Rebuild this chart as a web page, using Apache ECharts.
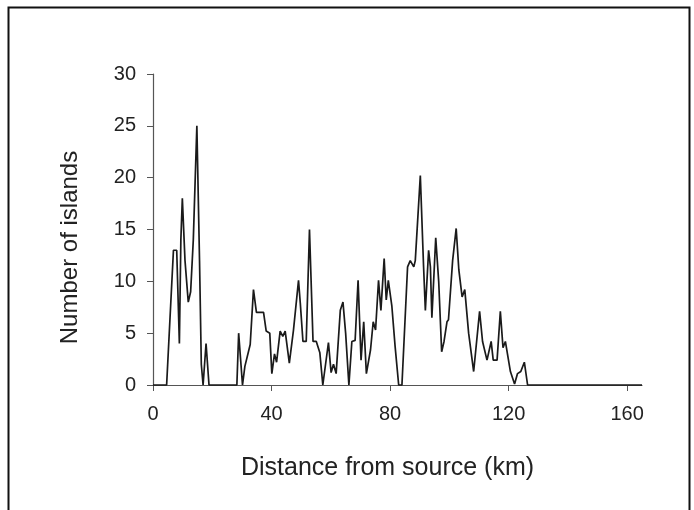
<!DOCTYPE html>
<html>
<head>
<meta charset="utf-8">
<script src="https://cdn.jsdelivr.net/npm/echarts@6/dist/echarts.min.js"></script>
<style>
  html, body { margin: 0; padding: 0; background: #fff; }
  #chart { width: 694px; height: 510px; }
</style>
</head>
<body>
<div id="chart"></div>
<script>
// distance along the river (km) and island count
const distanceKm = [
  0, 4.6, 6.9, 8, 8.9, 9.4, 9.9, 10.8, 11.9, 12.7, 13.6, 14.8, 15.7, 16.3, 16.9, 17.9, 18.9,
  28.3, 28.9, 30.2, 31, 32.8, 33.9, 34.9, 37.3, 38.2, 39.4, 40.1, 41, 41.7, 42.9, 43.8, 44.6,
  46, 47.4, 49.1, 49.7, 50.6, 51.7, 52.8, 54, 55.1, 56.3, 57.3, 59.2, 60.1, 60.9, 61.8,
  63.2, 64.1, 65, 66.1, 67.1, 68.2, 69.2, 70.2, 71.1, 72, 73.4, 74.3, 75.1, 76.1, 76.9,
  78, 78.7, 79.4, 80.6, 81.7, 82.9, 84, 85.9, 86.8, 88, 88.5, 90.2, 91.3, 91.9, 93, 93.6,
  94.1, 95.4, 96.4, 97.4, 98.2, 99.2, 99.7, 101.1, 102.3, 103.2, 104.3, 105.2, 106.5,
  108.2, 110.2, 111.2, 112.7, 114.1, 114.8, 116.1, 117.2, 118.1, 118.9, 120.6, 122, 123,
  124.1, 125.3, 126.4, 165
];
const islandCount = [
  0, 0, 13, 13, 4, 14, 18, 12, 8, 9, 14, 25, 12, 2, 0, 4, 0,
  0, 5, 0, 1.8, 3.9, 9.2, 7, 7, 5.2, 5, 1.1, 3, 2.2, 5.2, 4.7, 5.2,
  2.1, 5.3, 10.1, 7.9, 4.2, 4.2, 15, 4.2, 4.2, 3.1, 0, 4.1, 1.2, 2, 1.1,
  7.2, 8, 5, 0, 4.2, 4.3, 10.1, 2.4, 6.1, 1.1, 3.4, 6.1, 5.3, 10.1, 7.2,
  12.2, 8.2, 10.1, 7.6, 3.7, 0, 0, 11.4, 12, 11.4, 12, 20.2, 11.4, 7.2, 13, 11.4,
  6.5, 14.2, 10, 3.2, 4.2, 6.1, 6.3, 12, 15.1, 11.1, 8.5, 9.2, 5,
  1.3, 7.1, 4.2, 2.4, 4.2, 2.4, 2.4, 7.1, 3.6, 4.2, 1.3, 0.1, 1.1,
  1.3, 2.2, 0, 0
];
const xTicks = [0, 40, 80, 120, 160];
const yTicks = [0, 5, 10, 15, 20, 25, 30];

const chart = echarts.init(document.getElementById('chart'));
const points = distanceKm.map((d, i) => [d, islandCount[i]]);
const labelFont = { color: '#222', fontSize: 20, fontFamily: 'Liberation Sans, Arial, sans-serif' };
const tickStyle = { show: true, inside: false, length: 6, lineStyle: { color: '#555', width: 1 } };

chart.setOption({
  animation: false,
  backgroundColor: '#fff',
  graphic: [{
    type: 'rect',
    shape: { x: 8.5, y: 7.5, width: 681, height: 520 },
    style: { fill: 'none', stroke: '#111', lineWidth: 2 }
  }],
  grid: { left: 153, top: 74, right: 52, bottom: 125 },
  xAxis: {
    type: 'value',
    min: 0, max: 165, interval: 40,
    name: 'Distance from source (km)',
    nameLocation: 'middle', nameGap: 71,
    nameTextStyle: { ...labelFont, fontSize: 25, padding: [0, 20, 0, 0] },
    axisLine: { lineStyle: { color: '#555', width: 1.2 } },
    axisTick: tickStyle,
    splitLine: { show: false },
    axisLabel: {
      ...labelFont, margin: 19,
      showMaxLabel: false,
      formatter: v => xTicks.includes(v) ? String(v) : ''
    }
  },
  yAxis: {
    type: 'value',
    min: 0, max: 30, interval: 5,
    name: 'Number of islands',
    nameLocation: 'middle', nameGap: 71,
    nameTextStyle: { ...labelFont, fontSize: 24, padding: [0, 36, 0, 0] },
    axisLine: { show: true, lineStyle: { color: '#555', width: 1.2 } },
    axisTick: tickStyle,
    splitLine: { show: false },
    axisLabel: {
      ...labelFont, margin: 17,
      formatter: v => yTicks.includes(v) ? String(v) : ''
    }
  },
  series: [{
    type: 'line',
    data: points,
    showSymbol: false,
    lineStyle: { color: '#1a1a1a', width: 1.7 },
    clip: false
  }]
});
</script>
</body>
</html>
